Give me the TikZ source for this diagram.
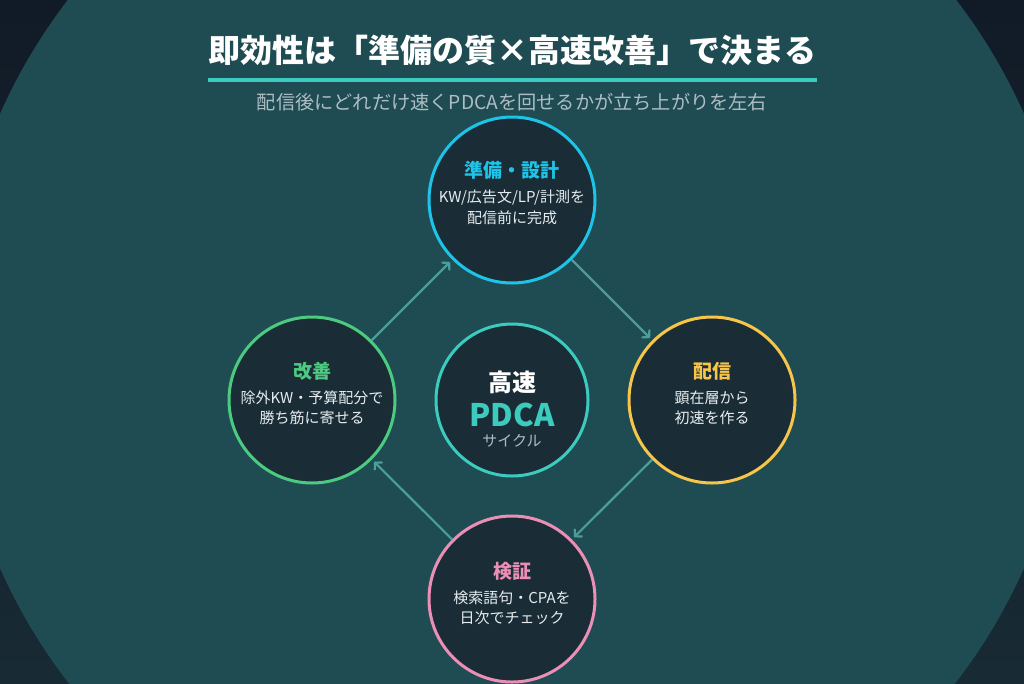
\documentclass[tikz,border=0pt]{standalone}
\usepackage{fontspec}
\setmainfont{Noto Sans CJK JP}
\usetikzlibrary{arrows.meta}
\definecolor{bgtop}{HTML}{111B27}
\definecolor{bgbot}{HTML}{182A34}
\definecolor{tealbg}{HTML}{1E4C52}
\definecolor{cfill}{HTML}{1A2D37}
\definecolor{cyanc}{HTML}{1EC4E8}
\definecolor{greenc}{HTML}{4CCB80}
\definecolor{yellowc}{HTML}{F6C54A}
\definecolor{pinkc}{HTML}{EC8FB6}
\definecolor{tealc}{HTML}{3CCBBE}
\definecolor{arrowc}{HTML}{4B9E99}
\definecolor{subc}{HTML}{AEBDC4}
\definecolor{bodyc}{HTML}{E6ECEF}
\tikzset{
  stage/.style={circle, minimum size=166pt, line width=3pt, fill=cfill, inner sep=0pt},
  ttl/.style={font=\bfseries\fontsize{19}{19}\selectfont, inner sep=0pt},
  body/.style={font=\fontsize{15}{15}\selectfont, text=bodyc, inner sep=0pt},
  flow/.style={draw=arrowc, line width=2.2pt, shorten >=3pt, -{Straight Barb[length=5pt,width=11pt]}}
}
\begin{document}
\begin{tikzpicture}[x=1pt,y=-1pt]
\useasboundingbox (0,0) rectangle (1024,683);
\shade[top color=bgtop,bottom color=bgbot] (0,0) rectangle (1024,683);
\begin{scope}
\clip (0,0) rectangle (1024,683);
\fill[tealbg] (512,341) circle[radius=560pt];
\end{scope}

% title
\node[font=\bfseries\fontsize{32}{32}\selectfont, text=white, inner sep=0pt] (title) at (512,50) {即効性は「準備の質×高速改善」で決まる};
\coordinate (ulL) at (208,80);
\coordinate (ulR) at (817,80);
\draw[tealc, line width=4pt] (ulL) -- (ulR);
\node[font=\fontsize{19.2}{19.2}\selectfont, text=subc, inner sep=0pt] (sub) at (512,102) {配信後にどれだけ速くPDCAを回せるかが立ち上がりを左右};

% circles
\node[stage, draw=cyanc] (T) at (512,200) {};
\node[stage, draw=yellowc] (R) at (712,400) {};
\node[stage, draw=pinkc] (B) at (512,599) {};
\node[stage, draw=greenc] (L) at (312,400) {};
\node[stage, draw=tealc, minimum size=152pt] (C) at (512,400) {};

% arrows
\draw[flow] (L) -- (T);
\draw[flow] (T) -- (R);
\draw[flow] (R) -- (B);
\draw[flow] (B) -- (L);

% texts
\node[ttl, text=cyanc] (Tt) at (512,170) {準備・設計};
\node[body] (Tb1) at (512,198) {KW/広告文/LP/計測を};
\node[body] (Tb2) at (512,218) {配信前に完成};

\node[ttl, text=yellowc] (Rt) at (712,371) {配信};
\node[body] (Rb1) at (712,398) {顕在層から};
\node[body] (Rb2) at (712,418) {初速を作る};

\node[ttl, text=pinkc] (Bt) at (512,571) {検証};
\node[body] (Bb1) at (512,598) {検索語句・CPAを};
\node[body] (Bb2) at (512,618) {日次でチェック};

\node[ttl, text=greenc] (Lt) at (312,371) {改善};
\node[body] (Lb1) at (312,398) {除外KW・予算配分で};
\node[body] (Lb2) at (312,418) {勝ち筋に寄せる};

\node[font=\bfseries\fontsize{24}{24}\selectfont, text=white, inner sep=0pt] (Ct) at (512,382) {高速};
\node[font=\bfseries\fontsize{31}{31}\selectfont, text=tealc, inner sep=0pt] (Cp) at (512,415) {PDCA};
\node[font=\fontsize{15}{15}\selectfont, text=subc, inner sep=0pt] (Cs) at (512,441) {サイクル};
\end{tikzpicture}
\end{document}
